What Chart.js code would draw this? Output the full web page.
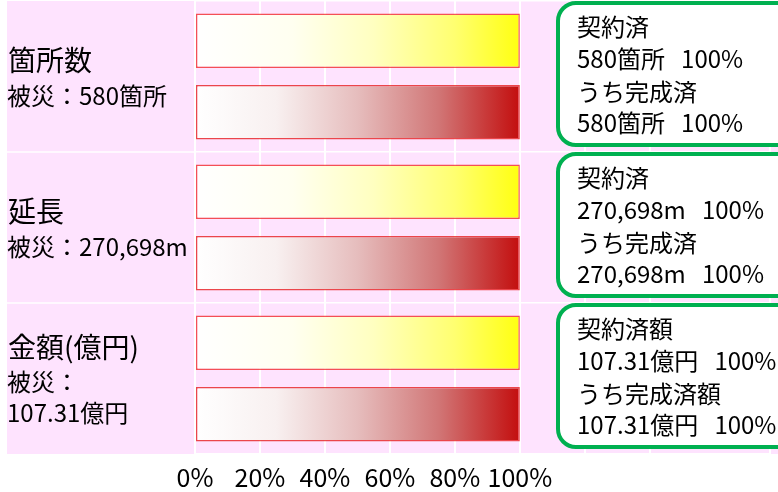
<!DOCTYPE html>
<html>
<head>
<meta charset="utf-8">
<script src="https://cdn.jsdelivr.net/npm/chart.js@4"></script>
<style>
  html, body { margin: 0; padding: 0; background: #fff; }
  #wrap { width: 778px; height: 492px; }
</style>
</head>
<body>
<div id="wrap"><canvas id="chart"></canvas></div>
<script>
// categories and their left-hand captions
const categories = ['箇所数', '延長', '金額(億円)'];
const disasterLines = [['被災：580箇所'], ['被災：270,698m'], ['被災：', '107.31億円']];

// series values (percent of disaster total)
const contractedPct = [100, 100, 100];
const completedPct = [100, 100, 100];

// right-hand boxes
const contractedHead = ['契約済', '契約済', '契約済額'];
const completedHead = ['うち完成済', 'うち完成済', 'うち完成済額'];
const amounts = ['580箇所', '270,698m', '107.31億円'];

const xTicks = [0, 20, 40, 60, 80, 100];

const FONT = '"Noto Sans CJK JP", "Noto Sans", sans-serif';
const PINK = '#FEE3FE';
const GREEN = '#00B050';

function gradient(chart, stops) {
  const x = chart.scales.x;
  const fallback = stops[stops.length - 1][1];
  if (!chart.chartArea || !x) return fallback;
  const x0 = x.getPixelForValue(0), x1 = x.getPixelForValue(100);
  if (!isFinite(x0) || !isFinite(x1)) return fallback;
  const g = chart.ctx.createLinearGradient(x0, 0, x1, 0);
  stops.forEach(s => g.addColorStop(s[0], s[1]));
  return g;
}

const yellowStops = [[0, '#FFFFFF'], [0.3, '#FFFFF0'], [0.55, '#FFFFC0'], [0.8, '#FFFF70'], [1, '#FFFF10']];
const redStops = [[0, '#FFFFFF'], [0.25, '#F8F0F0'], [0.5, '#E6BDBD'], [0.75, '#D17676'], [1, '#C30E0E']];

const panels = {
  id: 'panels',
  beforeDraw(chart) {
    const {ctx, chartArea: a} = chart;
    ctx.save();
    ctx.fillStyle = PINK;
    ctx.fillRect(7, a.top, chart.width - 7, a.bottom - a.top);
    // separators across the caption area
    const h = (a.bottom - a.top) / categories.length;
    ctx.strokeStyle = '#FFFFFF';
    ctx.lineWidth = 1.5;
    for (let i = 1; i < categories.length; i++) {
      const y = a.top + i * h;
      ctx.beginPath();
      ctx.moveTo(7, y);
      ctx.lineTo(a.left, y);
      ctx.stroke();
    }
    ctx.restore();
  },
  afterDraw(chart) {
    const {ctx, chartArea: a} = chart;
    const h = (a.bottom - a.top) / categories.length;
    ctx.save();
    ctx.textBaseline = 'middle';
    ctx.textAlign = 'left';
    ctx.fillStyle = '#000';
    categories.forEach((c, i) => {
      const top = a.top + i * h;
      const mid = top + h / 2;
      // caption
      const subs = disasterLines[i];
      const total = 35 + (subs.length - 1) * 31;
      let y = mid + 1.5 - total / 2;
      ctx.font = '28px ' + FONT;
      ctx.fillText(c, 8, y);
      y += 35;
      ctx.font = '24px ' + FONT;
      subs.forEach(s => { ctx.fillText(s, 7, y); y += 31; });

      // box
      ctx.beginPath();
      ctx.roundRect(558, top + 2, 260, h - 9, 18);
      ctx.fillStyle = '#FFFFFF';
      ctx.fill();
      ctx.lineWidth = 4;
      ctx.strokeStyle = GREEN;
      ctx.stroke();
      ctx.fillStyle = '#000';
      ctx.font = '24px ' + FONT;
      const lines = [
        contractedHead[i],
        amounts[i] + '   ' + contractedPct[i] + '%',
        completedHead[i],
        amounts[i] + '   ' + completedPct[i] + '%'
      ];
      [-50, -18, 15, 46].forEach((off, k) => ctx.fillText(lines[k], 577, mid + off));
    });
    ctx.restore();
  }
};

new Chart(document.getElementById('chart'), {
  type: 'bar',
  data: {
    labels: categories,
    datasets: [
      {
        label: '契約済',
        data: contractedPct,
        backgroundColor: c => gradient(c.chart, yellowStops),
        borderColor: 'rgba(240,30,30,0.75)',
        borderWidth: 1.5,
        borderSkipped: false
      },
      {
        label: 'うち完成済',
        data: completedPct,
        backgroundColor: c => gradient(c.chart, redStops),
        borderColor: 'rgba(230,30,30,0.8)',
        borderWidth: 1.5,
        borderSkipped: false
      }
    ]
  },
  options: {
    indexAxis: 'y',
    responsive: true,
    maintainAspectRatio: false,
    animation: false,
    categoryPercentage: 0.95,
    barPercentage: 0.76,
    layout: { padding: { left: 195, top: 1, right: 0, bottom: -8 } },
    plugins: {
      legend: { display: false },
      tooltip: { enabled: false }
    },
    scales: {
      x: {
        min: 0,
        max: 177,
        border: { display: false },
        grid: { color: '#FFFFFF', lineWidth: 2, drawTicks: false },
        ticks: {
          stepSize: 20,
          padding: 8,
          autoSkip: false,
          maxRotation: 0,
          minRotation: 0,
          color: '#000',
          font: { family: FONT, size: 25 },
          callback: v => xTicks.includes(v) ? v + '%' : ''
        }
      },
      y: {
        border: { display: false },
        grid: { color: '#FFFFFF', lineWidth: 1.5, drawTicks: false },
        ticks: { display: false },
        afterFit: s => { s.width = 0; }
      }
    }
  },
  plugins: [panels]
});
</script>
</body>
</html>
